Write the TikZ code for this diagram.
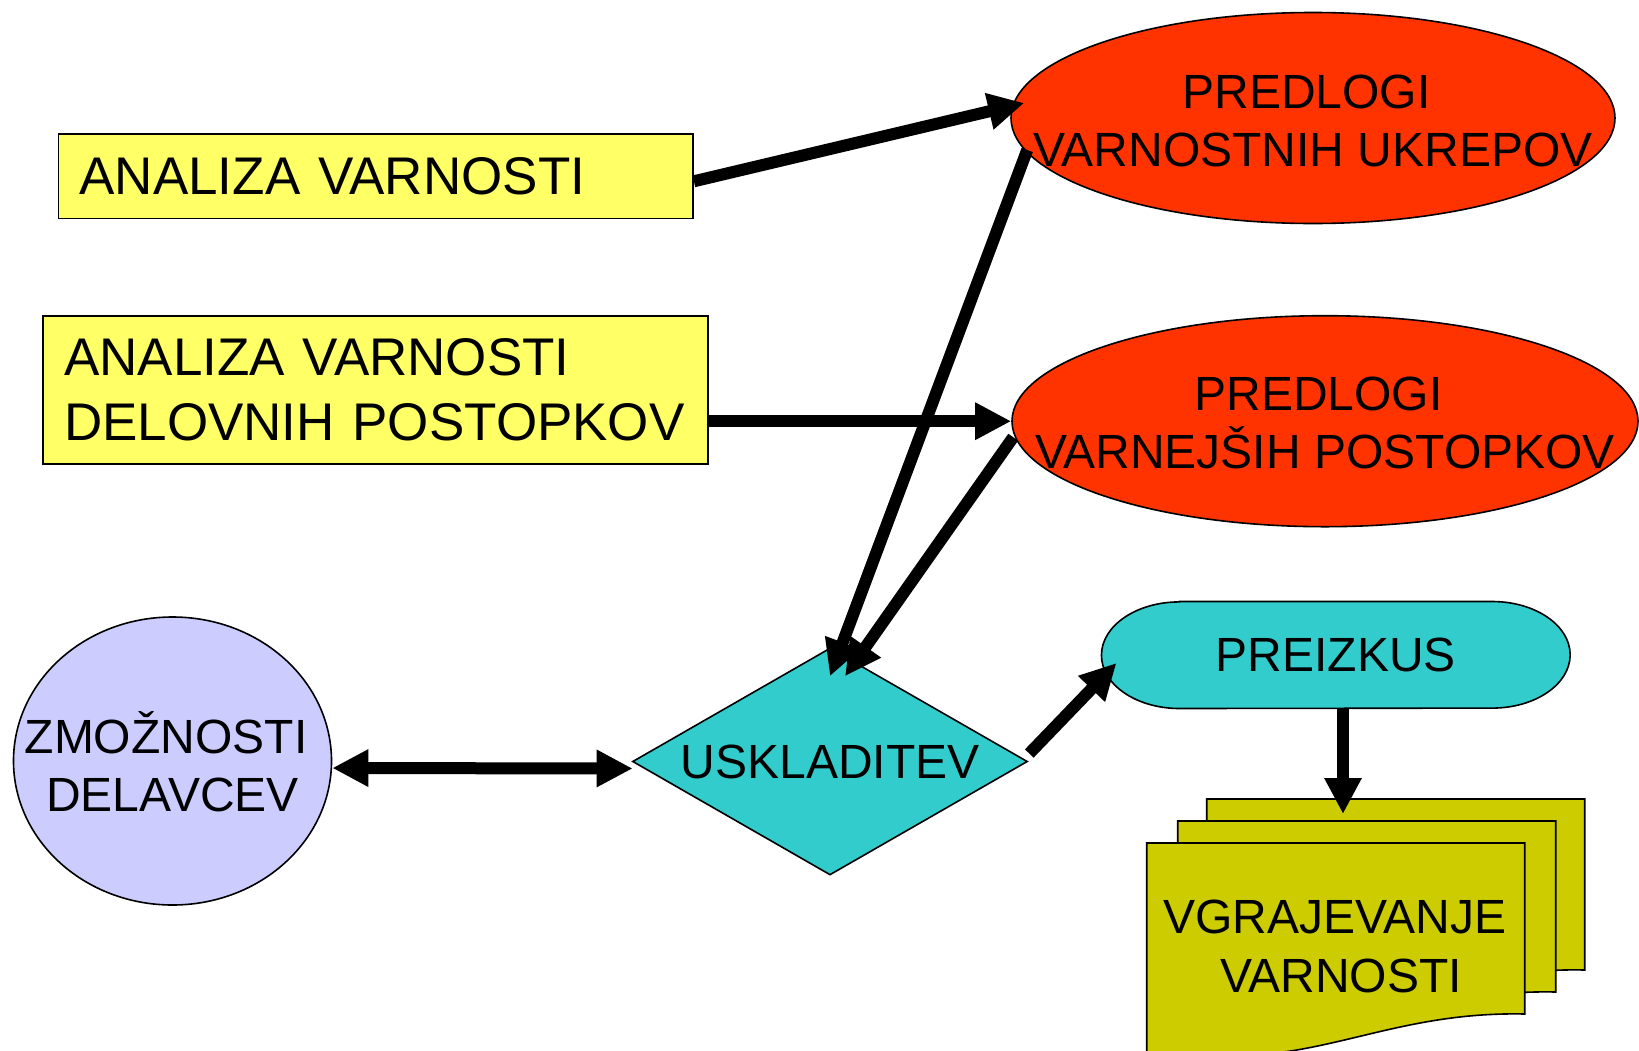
\documentclass[tikz,border=0pt]{standalone}
\usepackage{fontspec}
\setmainfont{Liberation Sans}
\usetikzlibrary{arrows.meta,shapes.geometric,calc,backgrounds}
\definecolor{boxyellow}{HTML}{FFFF66}
\definecolor{ellred}{HTML}{FF3300}
\definecolor{lavblue}{HTML}{CCCCFF}
\definecolor{tealc}{HTML}{33CCCC}
\definecolor{olivec}{HTML}{CCCC00}
\begin{document}
\begin{tikzpicture}[x=1pt,y=-1pt,
  outl/.style={draw=black, line width=1.6pt},
  bigfont/.style={font=\fontsize{53}{65}\selectfont},
  midfont/.style={font=\fontsize{48}{58}\selectfont},
  boxnode/.style={outl, fill=boxyellow, rectangle, inner xsep=21pt, inner ysep=0pt, align=left, bigfont},
  ellnode/.style={outl, ellipse, inner sep=0pt},
  txt/.style={midfont, align=center, inner sep=0pt},
  arr/.style={line width=12pt, -{Triangle[length=36pt,width=35pt]}},
  darr/.style={line width=12pt, {Triangle[length=36pt,width=35pt]}-{Triangle[length=36pt,width=35pt]}},
  page/.style={outl, fill=olivec}
]
\useasboundingbox (0,0) rectangle (1639,1050);

% nodes
\node[boxnode, text width=592.5pt, minimum height=84.5pt] (b1) at (375.8,176.3) {ANALIZA VARNOSTI};
\node[boxnode, text width=622.7pt, minimum height=148.3pt] (b2) at (375.4,389.9) {ANALIZA VARNOSTI\\DELOVNIH POSTOPKOV};
\node[ellnode, fill=ellred, minimum width=604pt, minimum height=211pt,
  label={[txt, yshift=-2.5pt]center:PREDLOGI\hspace*{13pt}\\VARNOSTNIH UKREPOV}] (e1) at (1313,118) {};
\node[ellnode, fill=ellred, minimum width=626pt, minimum height=211pt,
  label={[txt, yshift=-1.5pt]center:PREDLOGI\hspace*{13pt}\\VARNEJŠIH POSTOPKOV}] (e2) at (1325,421.2) {};
\node[ellnode, fill=lavblue, minimum width=318pt, minimum height=288pt,
  label={[txt, yshift=-1pt]center:ZMOŽNOSTI\hspace*{13pt}\\DELAVCEV}] (c1) at (172.5,761) {};
\node[outl, fill=tealc, diamond, aspect=1.74, minimum width=395pt, minimum height=227pt, inner sep=0pt, midfont] (d1) at (830,761.5) {\raisebox{-3pt}{USKLADITEV}};
\node[rectangle, minimum width=468.3pt, minimum height=106.6pt, inner sep=0pt, midfont] (pre) at (1335.8,655) {\raisebox{-5pt}{PREIZKUS}};
\node[txt, font=\fontsize{48}{58.7}\selectfont] (doc) at (1341,946.5) {VGRAJEVANJE\hspace*{12pt}\\VARNOSTI};
\coordinate (docin) at (1343,814);

% background shapes
\begin{scope}[on background layer]
  \draw[outl, fill=tealc] ($(pre.north west)+(78,0)$) -- ($(pre.north east)+(-78,0)$)
    arc[start angle=90, end angle=-90, x radius=78pt, y radius=53.3pt]
    -- ($(pre.south west)+(78,0)$)
    arc[start angle=270, end angle=90, x radius=78pt, y radius=53.3pt] -- cycle;
  \foreach \dx/\dy in {60/-44, 31/-22, 0/0}{
    \draw[page, shift={($(doc.center)+(-194.3,-103.5)+(\dx,\dy)$)}]
      (0,0) -- (378,0) -- (378,171)
      .. controls (283,169) and (220,195) .. (150,207)
      .. controls (90,217) and (40,215) .. (0,210) -- cycle;
  }
\end{scope}

% connectors
\draw[arr] ($(b1.east)+(0,5)$) -- ($(e1.west)+(14,-15)$);
\draw[arr] (b2.east |- e2.west) -- (e2.west);
\draw[arr] ($(e1.west)+(17,32)$) -- ($(d1.north)+(0,29)$);
\draw[arr] ($(e2.west)+(2,16)$) -- ($(d1.north)+(15,29)$);
\draw[arr] ($(d1.east)+(1,-8)$) -- ($(pre.west)+(15,8)$);
\draw[arr] (docin |- pre.south) -- (docin);
\draw[darr] ($(c1.east)+(0,7)$) -- ($(d1.west)+(1,7)$);
\end{tikzpicture}
\end{document}
